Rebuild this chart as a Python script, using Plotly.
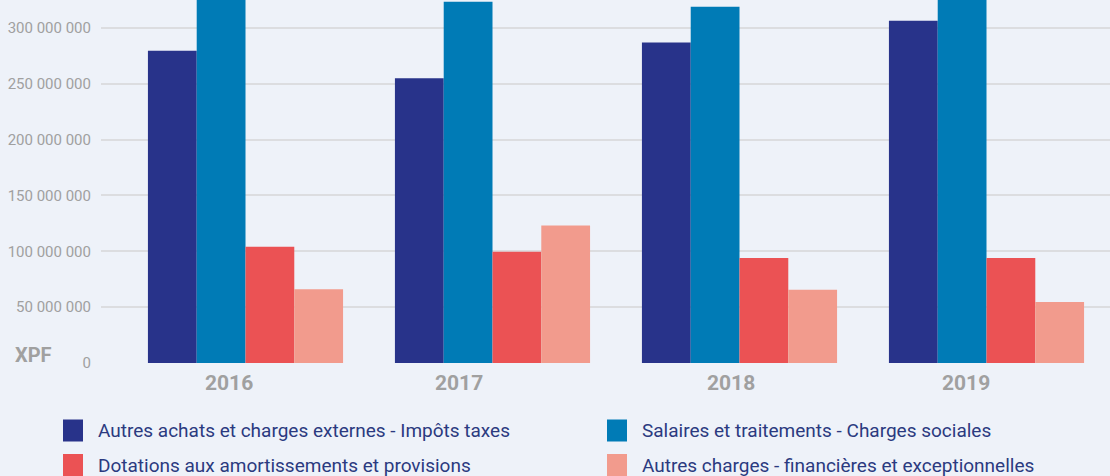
import plotly.graph_objects as go

years = ["2016", "2017", "2018", "2019"]
autres_achats = [279_500_000, 255_000_000, 287_000_000, 306_500_000]
salaires = [332_000_000, 323_500_000, 319_000_000, 335_000_000]
dotations = [104_000_000, 99_500_000, 94_000_000, 94_000_000]
autres_charges = [66_000_000, 123_000_000, 65_500_000, 54_700_000]

series_names = [
    "Autres achats et charges externes - Impôts taxes",
    "Salaires et traitements - Charges sociales",
    "Dotations aux amortissements et provisions",
    "Autres charges - financières et exceptionnelles",
]
series_values = [autres_achats, salaires, dotations, autres_charges]
colors = ["#28338a", "#007bb6", "#eb5254", "#f29b8d"]

tick_vals = [0, 50_000_000, 100_000_000, 150_000_000, 200_000_000, 250_000_000, 300_000_000]
tick_text = ["0", "50 000 000", "100 000 000", "150 000 000", "200 000 000", "250 000 000", "300 000 000"]

# year labels in the reference sit slightly left of the bar groups
year_label_shift = [-17, -34, -9, -21]

BG = "#eef2f9"

fig = go.Figure()
for name, vals, col in zip(series_names, series_values, colors):
    fig.add_trace(go.Bar(x=years, y=vals, name=name, marker=dict(color=col, line=dict(width=0)),
                         showlegend=False))

W, H = 1110, 476
ml, mb = 101, 113

fig.update_layout(
    width=W, height=H,
    margin=dict(l=ml, r=0, t=0, b=mb, autoexpand=False),
    paper_bgcolor=BG,
    plot_bgcolor="rgba(0,0,0,0)",
    barmode="group", bargap=0.21, bargroupgap=0,
    showlegend=False,
    font=dict(family="Roboto", color="#a0a0a0"),
)
fig.update_xaxes(
    type="category", range=[-0.585, 3.5], showgrid=False, zeroline=False, showline=False,
    showticklabels=False,
)
fig.update_yaxes(
    range=[0, 325_000_000], tickvals=tick_vals, ticktext=tick_text,
    showgrid=True, gridcolor="#dcdde0", gridwidth=2, zeroline=False, showline=False,
    tickfont=dict(family="Roboto", size=15, color="#a0a0a0"),
    ticks="outside", ticklen=6, tickcolor="rgba(0,0,0,0)",
)

pw, ph = W - ml, H - mb
def px_x(x):
    return (x - ml) / pw
def px_y(y):
    return (H - mb - y) / ph

# category labels (category axis: annotation x = category index)
for i, (yr, sh) in enumerate(zip(years, year_label_shift)):
    fig.add_annotation(text="<b>" + yr + "</b>", x=i, xref="x", y=px_y(382.5), yref="paper",
                       xshift=sh, showarrow=False, xanchor="center", yanchor="middle",
                       font=dict(family="Roboto", size=21, color="#a0a0a0"))

# XPF unit label
fig.add_annotation(text="<b>XPF</b>", x=px_x(13), y=px_y(355), xref="paper", yref="paper",
                   showarrow=False, xanchor="left", yanchor="middle",
                   font=dict(family="Roboto", size=20, color="#a0a0a0"))

# Legend built from shapes + annotations (two columns)
legend_pos = [(63, 430.5), (607, 430.5), (63, 465), (607, 465)]
for name, col, (lx, ly) in zip(series_names, colors, legend_pos):
    fig.add_shape(type="rect", xref="paper", yref="paper",
                  x0=px_x(lx), x1=px_x(lx + 20), y0=px_y(ly + 11), y1=px_y(ly - 11),
                  fillcolor=col, line=dict(width=0))
    fig.add_annotation(text=name, xref="paper", yref="paper", x=px_x(lx + 33), y=px_y(ly),
                       showarrow=False, xanchor="left", yanchor="middle",
                       font=dict(family="Roboto", size=19, color="#2b3a80"))

fig.write_html(
    "out.html",
    config={"displayModeBar": False},
    post_script="document.body.style.margin='0';document.body.style.overflow='hidden';"
                "document.body.style.background='" + BG + "';",
)
